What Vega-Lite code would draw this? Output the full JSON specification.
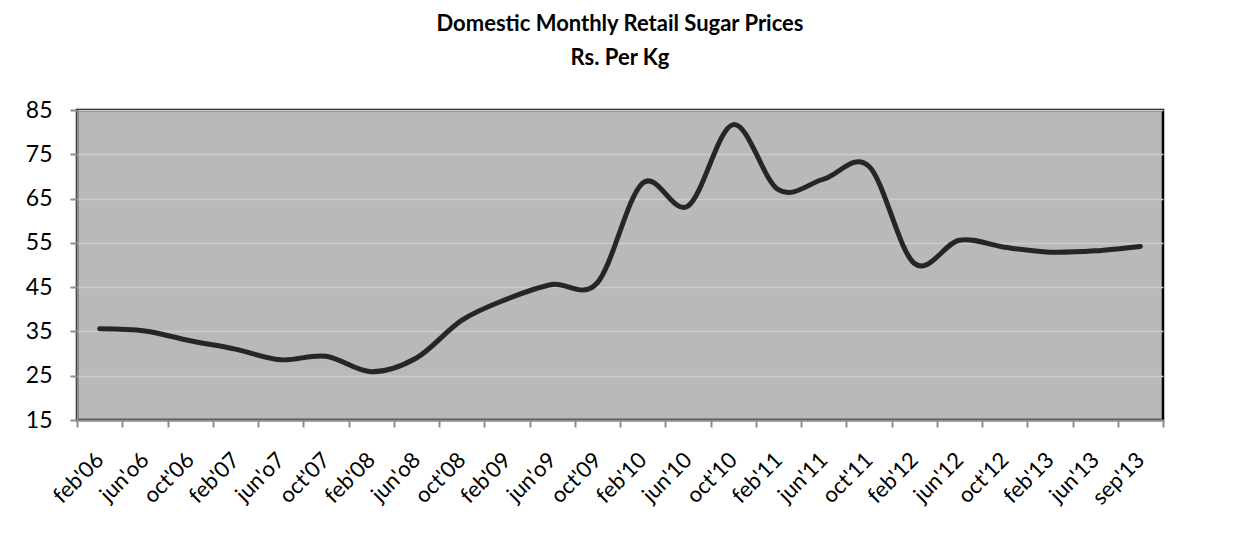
{
  "$schema": "https://vega.github.io/schema/vega-lite/v6.json",
  "autosize": "none",
  "width": 1086,
  "height": 310,
  "padding": {"left": 77, "top": 110, "right": 79, "bottom": 127},
  "background": "white",
  "title": {
    "text": ["Domestic Monthly Retail Sugar Prices", "Rs. Per Kg"],
    "font": "Lato",
    "fontSize": 22,
    "fontWeight": "bold",
    "color": "#000000",
    "lineHeight": 34,
    "anchor": "middle",
    "frame": "group",
    "offset": 29
  },
  "data": {
    "values": [
      {"month": "feb'06", "price": 35.6},
      {"month": "jun'o6", "price": 35.1},
      {"month": "oct'06", "price": 32.9},
      {"month": "feb'07", "price": 31.0},
      {"month": "jun'o7", "price": 28.6},
      {"month": "oct'07", "price": 29.4},
      {"month": "feb'08", "price": 25.9},
      {"month": "jun'o8", "price": 29.0},
      {"month": "oct'08", "price": 37.5},
      {"month": "feb'09", "price": 42.3},
      {"month": "jun'o9", "price": 45.6},
      {"month": "oct'09", "price": 46.0},
      {"month": "feb'10", "price": 68.5},
      {"month": "jun'10", "price": 63.3},
      {"month": "oct'10", "price": 81.7},
      {"month": "feb'11", "price": 67.0},
      {"month": "jun'11", "price": 69.4},
      {"month": "oct'11", "price": 72.3},
      {"month": "feb'12", "price": 50.4},
      {"month": "jun'12", "price": 55.6},
      {"month": "oct'12", "price": 54.0},
      {"month": "feb'13", "price": 52.9},
      {"month": "jun'13", "price": 53.2},
      {"month": "sep'13", "price": 54.2}
    ]
  },
  "mark": {
    "type": "line",
    "interpolate": "cardinal",
    "tension": 0,
    "color": "#262626",
    "strokeWidth": 5,
    "strokeCap": "round",
    "clip": false
  },
  "encoding": {
    "x": {
      "field": "month",
      "type": "ordinal",
      "sort": null,
      "scale": {"paddingInner": 0, "paddingOuter": 0},
      "axis": {
        "title": null,
        "labelAngle": -45,
        "labelAlign": "right",
        "labelBaseline": "middle",
        "labelFont": "Lato",
        "labelFontSize": 22,
        "labelColor": "#000000",
        "labelPadding": 29,
        "tickBand": "extent",
        "tickExtra": true,
        "tickSize": 7,
        "tickColor": "#8c8c8c",
        "tickWidth": 2,
        "domainColor": "#8c8c8c",
        "domainWidth": 2,
        "grid": false
      }
    },
    "y": {
      "field": "price",
      "type": "quantitative",
      "scale": {"domain": [15, 85], "nice": false, "zero": false},
      "axis": {
        "title": null,
        "values": [15, 25, 35, 45, 55, 65, 75, 85],
        "labelFont": "Lato",
        "labelFontSize": 23,
        "labelColor": "#000000",
        "labelPadding": 18,
        "tickSize": 7,
        "tickColor": "#8c8c8c",
        "tickWidth": 2,
        "domainColor": "#8c8c8c",
        "domainWidth": 2,
        "grid": true,
        "gridColor": "#cdcdcd",
        "gridWidth": 1.5
      }
    }
  },
  "config": {
    "view": {"fill": "#b9b9b9", "stroke": "#000000", "strokeWidth": 2.5}
  }
}
